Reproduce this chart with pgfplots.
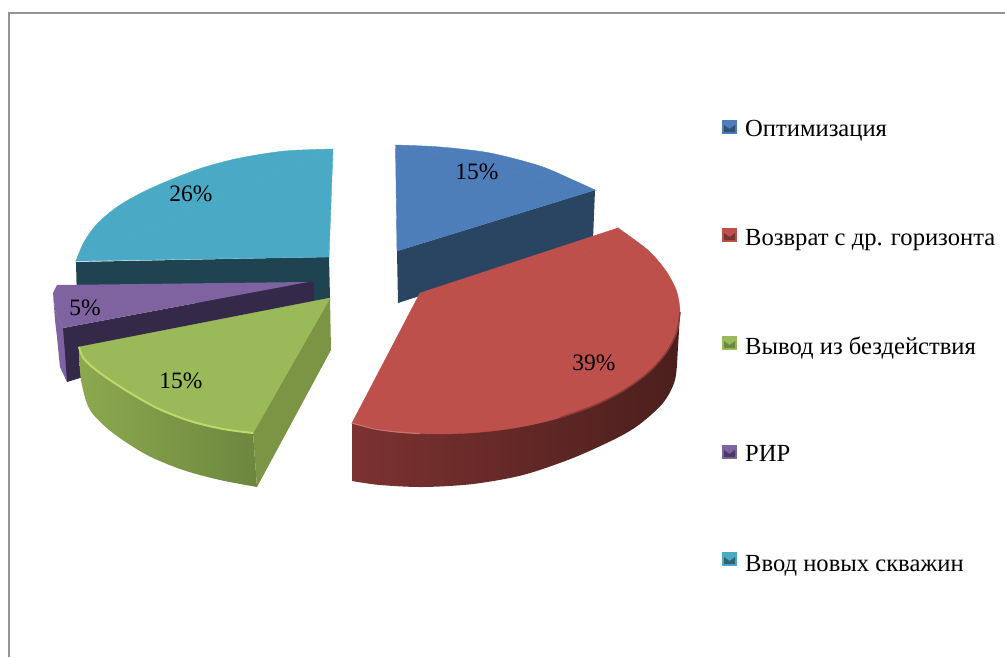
\documentclass[border=0pt]{standalone}
\usepackage{fontspec}
\setmainfont{Liberation Serif}
\usepackage{pgfplots}
\pgfplotsset{compat=1.18}
\definecolor{blueT}{HTML}{4D7EBA}\definecolor{blueD}{HTML}{2A4562}
\definecolor{redT}{HTML}{BE504C}\definecolor{redL}{HTML}{7C3230}\definecolor{redR}{HTML}{4B1F1D}
\definecolor{greenT}{HTML}{9ABA59}\definecolor{greenL}{HTML}{8CA94F}\definecolor{greenR}{HTML}{6C873E}\definecolor{greenS}{HTML}{7B9545}\definecolor{greenH}{HTML}{BFD86C}
\definecolor{purT}{HTML}{7F62A0}\definecolor{purD}{HTML}{35294A}
\definecolor{tealT}{HTML}{4AAAC5}\definecolor{tealD}{HTML}{1F4350}
\newcommand{\lab}[3]{\node[font=\fontsize{23.5bp}{25bp}\selectfont,inner sep=0pt,anchor=center] at (axis cs:#1,#2) {#3};}
\newcommand{\leg}[2]{\node[font=\fontsize{24.6bp}{26bp}\selectfont,inner sep=0pt,anchor=base west] at (axis cs:745,#1) {#2};}
\newcommand{\mk}[3]{%
\addplot[draw=none,fill=#2] coordinates {(722,#1) (737,#1) (737,#1+14) (722,#1+14)} --cycle;
\addplot[draw=none,fill=#3] coordinates {(724,#1+5) (729.5,#1+9) (735,#1+5) (735,#1+12) (724,#1+12)} --cycle;}
\pgfplotsset{solid/.style={draw=#1,fill=#1,line width=0.4bp}}
\begin{document}
\begin{tikzpicture}
\begin{axis}[scale only axis,width=1005bp,height=657bp,xmin=0,xmax=1005,ymin=0,ymax=657,y dir=reverse,axis lines=none,clip=true]
\addplot[draw=none,fill=white] coordinates {(0,0) (1005,0) (1005,657) (0,657)} --cycle;
% frame
\addplot[color=black!42,line width=2bp] coordinates {(9,657) (9,13.5) (1005,13.5)};
% teal
\addplot[draw=none,fill=tealD] coordinates {(76,262) (329,257) (330,298) (313,303) (77,303)} --cycle;
\addplot[solid=tealT] coordinates {(333,149) (76,261) (329,257)} --cycle;
\addplot[solid=tealT,smooth] coordinates {(333,149) (285,151) (240,158) (205,167) (175,178) (143,192) (117,207) (97,224) (84,242) (76,261)} --cycle;
% purple
\addplot[draw=none,fill=purT] coordinates {(53,293) (55,320) (57,337) (60,367) (67,382) (72,360) (63,328) (55,310)} --cycle;
\addplot[draw=none,fill=purD] coordinates {(63,328) (308,282) (314,282) (314,300) (80,378) (67,382) (65,353)} --cycle;
\addplot[draw=none,fill=purT] coordinates {(308,282) (57,285) (53,293) (55,310) (63,328)} --cycle;
% green
\addplot[draw=none,left color=greenL,right color=greenR,smooth] coordinates {(79,347) (81,380) (90,410) (113,433) (147,455) (183,470) (220,480) (257,487)} -- (axis cs:253,433) -- cycle;
\addplot[draw=none,fill=greenS] coordinates {(253,433) (330,298) (331,350) (257,487)} --cycle;
\addplot[solid=greenT] coordinates {(330,298) (79,347) (253,433)} --cycle;
\addplot[solid=greenT,smooth] coordinates {(79,347) (84,359) (100,373) (127,391) (157,408) (190,421) (223,429) (253,433)} --cycle;
\addplot[color=greenH,line width=2bp,smooth] coordinates {(79,347) (84,359) (100,373) (127,391) (157,408) (190,421) (223,429) (253,433)};
% blue
\addplot[draw=none,fill=blueD] coordinates {(397,251) (595,190) (593,240) (398,303)} --cycle;
\addplot[solid=blueT] coordinates {(395.5,145) (595,190) (397,251)} --cycle;
\addplot[solid=blueT,smooth] coordinates {(395.5,145) (440,147) (490,153) (540,166) (573,180) (595,190)} --cycle;
% red
\addplot[draw=none,left color=redL,right color=redR,smooth] coordinates {(352,481) (380,485) (423,487) (473,484) (523,475) (573,458) (617,438) (640,424) (663,403) (675,380) (678,347) (680,312)} -- (axis cs:352,423) -- cycle;
\addplot[solid=redT] coordinates {(420,293) (618,228) (352,423)} --cycle;
\addplot[solid=redT,smooth] coordinates {(618,228) (647.8,250) (665.5,270.3) (676.4,290.8) (680,312) (676.4,333.2) (665.5,353.7) (647.8,373) (623.8,390.4) (594.3,405.5) (560,417.7) (522.1,426.7) (481.7,432.1) (440,434) (398.3,432.1) (352,423)} --cycle;
\addplot[color=redR!45!redT,line width=1.5bp,smooth] coordinates {(680,312) (676.4,333.2) (665.5,353.7) (647.8,373) (623.8,390.4) (594.3,405.5) (560,417.7)};
\addplot[color=redT!80!white,line width=1.2bp,smooth] coordinates {(352,423) (375,429) (398.3,432.1) (420,433.5)};
% legend keys
\mk{120}{blueT}{blueD!80!blueT}
\mk{228}{redT}{redR!60!redT}
\mk{336}{greenT}{greenR}
\mk{445}{purT}{purD!70!purT}
\mk{552}{tealT}{tealD!70!tealT}
\lab{477}{172}{15\%}
\lab{594}{363}{39\%}
\lab{181}{381}{15\%}
\lab{85}{308}{5\%}
\lab{191}{194}{26\%}
\leg{136}{Оптимизация}
\leg{245}{Возврат с др. горизонта}
\leg{354}{Вывод из бездействия}
\leg{461}{РИР}
\leg{571}{Ввод новых скважин}
\end{axis}
\end{tikzpicture}
\end{document}
